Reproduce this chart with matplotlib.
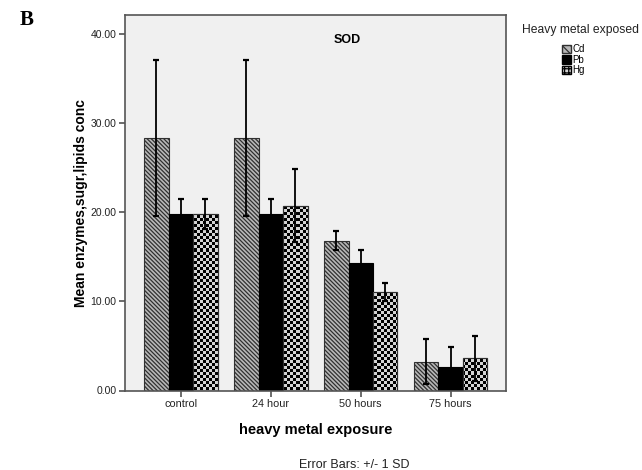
import numpy as np
import matplotlib
matplotlib.use("Agg")
import matplotlib.pyplot as plt
from matplotlib.patches import Patch
from matplotlib.colors import ListedColormap

categories = ["control", "24 hour", "50 hours", "75 hours"]
metals = ["Cd", "Pb", "Hg"]
cd_mean = [28.3, 28.3, 16.8, 3.25]
cd_sd = [8.7, 8.7, 1.1, 2.5]
pb_mean = [19.8, 19.8, 14.3, 2.6]
pb_sd = [1.7, 1.7, 1.5, 2.3]
hg_mean = [19.8, 20.7, 11.0, 3.6]
hg_sd = [1.7, 4.1, 1.0, 2.5]
yticks = [0, 10, 20, 30, 40]

plt.rcParams['font.family'] = ['Liberation Sans', 'DejaVu Sans']
plt.rcParams['hatch.linewidth'] = 0.9

fig = plt.figure(figsize=(6.42, 4.70), dpi=100)
L, R, T, B = 125, 505.5, 15, 390.5
ax = fig.add_axes([L / 642, 1 - B / 470, (R - L) / 642, (B - T) / 470])
ax.set_facecolor("#f0f0f0")

x = np.arange(len(categories))
w = 0.272
ylim = (0, 42.1)
xlim = (-0.622, 3.61)
ax.set_xlim(*xlim)
ax.set_ylim(*ylim)

ekw = dict(ecolor="black", elinewidth=1.3, capsize=2.5, capthick=1.6)
cd_hatch = "\\" * 8
b_cd = ax.bar(x - w, cd_mean, w, yerr=cd_sd, color="#b8b8b8", edgecolor="#303030",
              hatch=cd_hatch, linewidth=0.8, error_kw=ekw, zorder=2)
b_pb = ax.bar(x, pb_mean, w, yerr=pb_sd, color="black", edgecolor="black",
              linewidth=0.8, error_kw=ekw, zorder=2)
b_hg = ax.bar(x + w, hg_mean, w, color="#d4d4d4", edgecolor="#303030",
              linewidth=0.8, zorder=2)

# checkerboard texture for Hg bars
npx_x, npx_y = int(R - L), int(B - T)
cell = 3
yy, xx = np.mgrid[0:npx_y, 0:npx_x]
checker = ((xx // cell + yy // cell) % 2).astype(float)
cmap = ListedColormap(["#d4d4d4", "black"])
for bar in b_hg:
    im = ax.imshow(checker, cmap=cmap, vmin=0, vmax=1, extent=(*xlim, *ylim),
                   origin="lower", interpolation="nearest", aspect="auto", zorder=2.1)
    im.set_clip_path(bar)
    ax.add_patch(plt.Rectangle(bar.get_xy(), bar.get_width(), bar.get_height(),
                               fill=False, edgecolor="#303030", linewidth=0.8, zorder=2.2))
ax.errorbar(x + w, hg_mean, yerr=hg_sd, fmt="none", zorder=3, **ekw)
ax.set_xlim(*xlim)
ax.set_ylim(*ylim)

for s in ax.spines.values():
    s.set_color("#555555")
    s.set_linewidth(1.2)

ax.set_yticks(yticks)
ax.set_yticklabels([f"{v:.2f}" for v in yticks], fontsize=7.5, color="#222222")
ax.set_xticks(x)
ax.set_xticklabels(categories, fontsize=7.8, color="#222222")
ax.tick_params(axis="both", direction="out", length=4, width=1.1, color="#444444", pad=2)

ax.set_ylabel("Mean enzymes,sugr,lipids conc", fontsize=10, fontweight="bold", labelpad=2)
ax.set_xlabel("heavy metal exposure", fontsize=10.5, fontweight="bold", labelpad=10)

ax.text((347 - L) / (R - L), (B - 40) / (B - T), "SOD", transform=ax.transAxes,
        fontsize=9, fontweight="bold", ha="center", va="center")

fig.text(20 / 642, 1 - 20 / 470, "B", fontsize=15, fontweight="bold",
         family=["Liberation Serif", "DejaVu Serif"], ha="left", va="center")
fig.text(354 / 642, 1 - 465 / 470, "Error Bars: +/- 1 SD", fontsize=9,
         color="#222222", ha="center", va="center")

fig.text(580 / 642, 1 - 30 / 470, "Heavy metal exposed", fontsize=8.7,
         color="#222222", ha="center", va="center")
handles = [Patch(facecolor="#b8b8b8", edgecolor="#303030", hatch="\\\\\\\\", label=metals[0]),
           Patch(facecolor="black", edgecolor="black", label=metals[1]),
           Patch(facecolor="#d4d4d4", edgecolor="black", hatch="++++", label=metals[2])]
leg = fig.legend(handles=handles, loc="upper left",
                 bbox_to_anchor=(562 / 642, 1 - 44.5 / 470), frameon=False,
                 fontsize=7, handlelength=0.9, handleheight=0.95,
                 handletextpad=0.15, labelspacing=0.05, borderpad=0, borderaxespad=0)

fig.savefig("out.png", dpi=100)
